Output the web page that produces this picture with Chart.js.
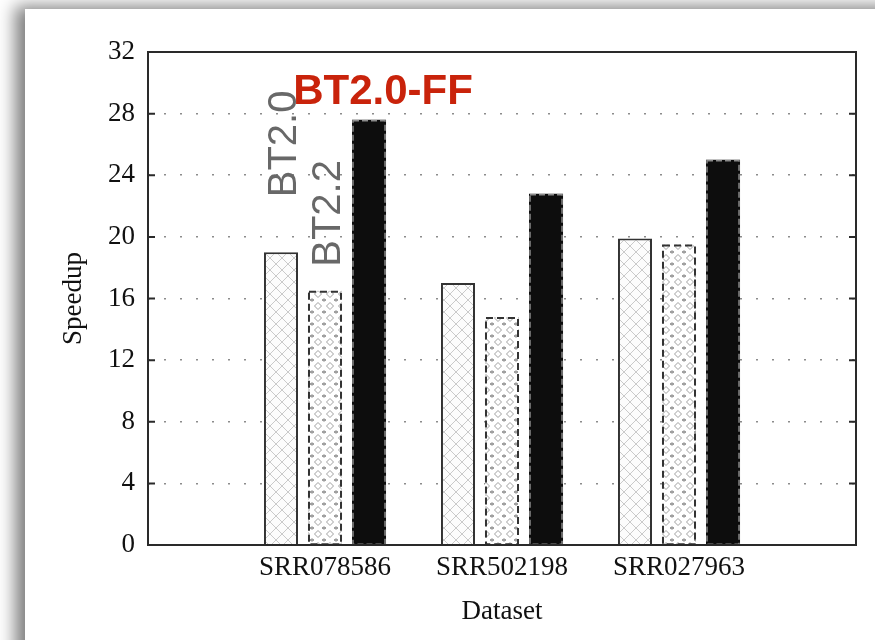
<!DOCTYPE html>
<html>
<head>
  <title>Speedup by dataset</title>
  <script src="https://cdn.jsdelivr.net/npm/chart.js@4/dist/chart.umd.min.js"></script>
  <style>
    body { margin: 0; background: #fff; width: 875px; height: 640px; overflow: hidden; position: relative; }
    #card { position: absolute; left: 25px; top: 9px; width: 900px; height: 700px; background: #fff;
            box-shadow: -10px -3px 16px rgba(0,0,0,0.5); }
    #myChart { position: absolute; left: 0; top: 0; }
  </style>
</head>
<body>
  <div id="card"></div>
  <canvas id="myChart" width="875" height="640"></canvas>

  <script>
    var categories = ['SRR078586', 'SRR502198', 'SRR027963'];
    var seriesNames = ['BT2.0', 'BT2.2', 'BT2.0-FF'];
    var bt20 = [19.0, 17.0, 19.9];
    var bt22 = [16.5, 14.8, 19.5];
    var bt20ff = [27.6, 22.8, 25.0];
    var yTicks = [0, 4, 8, 12, 16, 20, 24, 28, 32];

    // empty slots at both ends, like the original axis
    var labels = [''].concat(categories, ['']);
    function pad(arr) { return [null].concat(arr, [null]); }

    var serif = "'Liberation Serif', 'DejaVu Serif', serif";
    var sans = "'Liberation Sans', Arial, sans-serif";

    // crosshatch for BT2.0
    function hatchPattern() {
      var c = document.createElement('canvas');
      c.width = 12; c.height = 12;
      var g = c.getContext('2d');
      g.fillStyle = '#fcfcfc';
      g.fillRect(0, 0, 12, 12);
      g.strokeStyle = '#cacaca';
      g.lineWidth = 1;
      g.beginPath();
      g.moveTo(0, 0); g.lineTo(12, 12);
      g.moveTo(12, 0); g.lineTo(0, 12);
      g.stroke();
      return g.createPattern(c, 'repeat');
    }

    // small diamonds and crosses for BT2.2
    function dotPattern() {
      var c = document.createElement('canvas');
      c.width = 12; c.height = 12;
      var g = c.getContext('2d');
      g.fillStyle = '#ffffff';
      g.fillRect(0, 0, 12, 12);
      g.strokeStyle = '#a0a0a0';
      g.lineWidth = 1;
      g.beginPath();
      g.moveTo(6, 2.5); g.lineTo(9.5, 6); g.lineTo(6, 9.5); g.lineTo(2.5, 6); g.closePath();
      g.moveTo(0, 0); g.lineTo(0, 2); g.moveTo(0, 10); g.lineTo(0, 12);
      g.moveTo(12, 0); g.lineTo(12, 2); g.moveTo(12, 10); g.lineTo(12, 12);
      g.moveTo(10, 0.5); g.lineTo(12, 0.5); g.moveTo(0, 0.5); g.lineTo(2, 0.5);
      g.moveTo(10, 11.5); g.lineTo(12, 11.5); g.moveTo(0, 11.5); g.lineTo(2, 11.5);
      g.stroke();
      return g.createPattern(c, 'repeat');
    }

    var framePlugin = {
      id: 'frame',
      afterDatasetsDraw: function(chart) {
        var ctx = chart.ctx;
        // dashed outlines
        ctx.save();
        [[1, '#333', 2, [7, 4]], [2, '#8a8a8a', 1.5, [6, 3]]].forEach(function(s) {
          chart.getDatasetMeta(s[0]).data.forEach(function(el, i) {
            if (chart.data.datasets[s[0]].data[i] == null) return;
            ctx.strokeStyle = s[1];
            ctx.lineWidth = s[2];
            ctx.setLineDash(s[3]);
            ctx.strokeRect(el.x - el.width / 2 + 1, el.y + 1, el.width - 2, el.base - el.y - 1);
          });
        });
        ctx.restore();

        // series labels over the first group
        var m0 = chart.getDatasetMeta(0).data[1];
        var m1 = chart.getDatasetMeta(1).data[1];
        var m2 = chart.getDatasetMeta(2).data[1];
        ctx.save();
        ctx.fillStyle = '#686868';
        ctx.font = '40px ' + sans;
        ctx.textAlign = 'left';
        ctx.textBaseline = 'alphabetic';
        [[m0, chart.data.datasets[0].label, 55], [m1, chart.data.datasets[1].label, 24]].forEach(function(t) {
          ctx.save();
          ctx.translate(t[0].x + t[0].width / 2 - 2, t[0].y - t[2]);
          ctx.rotate(-Math.PI / 2);
          ctx.fillText(t[1], 0, 0);
          ctx.restore();
        });
        ctx.fillStyle = '#c9230b';
        ctx.font = 'bold 42px ' + sans;
        ctx.textAlign = 'center';
        ctx.fillText(chart.data.datasets[2].label, m2.x + 14, m2.y - 16);
        ctx.restore();
      },
      afterDraw: function(chart) {
        var ctx = chart.ctx;
        var a = chart.chartArea;
        var y = chart.scales.y;
        ctx.save();
        ctx.strokeStyle = '#2a2a2a';
        ctx.lineWidth = 2;
        ctx.setLineDash([]);
        ctx.strokeRect(a.left, a.top, a.right - a.left, a.bottom - a.top);
        // inward tick marks on both sides
        ctx.beginPath();
        y.ticks.forEach(function(t) {
          var py = y.getPixelForValue(t.value);
          ctx.moveTo(a.left, py); ctx.lineTo(a.left + 7, py);
          ctx.moveTo(a.right - 7, py); ctx.lineTo(a.right, py);
        });
        ctx.stroke();
        ctx.restore();
      }
    };

    var ctx = document.getElementById('myChart').getContext('2d');
    var myChart = new Chart(ctx, {
      type: 'bar',
      data: {
        labels: labels,
        datasets: [
          { label: seriesNames[0], data: pad(bt20), backgroundColor: hatchPattern(), borderColor: '#333', borderWidth: 2 },
          { label: seriesNames[1], data: pad(bt22), backgroundColor: dotPattern(), borderWidth: 0 },
          { label: seriesNames[2], data: pad(bt20ff), backgroundColor: '#0d0d0d', borderWidth: 0 }
        ]
      },
      options: {
        responsive: false,
        animation: false,
        devicePixelRatio: 1,
        categoryPercentage: 0.746,
        barPercentage: 0.773,
        layout: { padding: { left: 0, top: 52, right: 19, bottom: 0 } },
        plugins: { legend: { display: false }, tooltip: { enabled: false } },
        scales: {
          x: {
            offset: false,
            grid: { display: false, drawTicks: false },
            border: { display: false },
            ticks: { color: '#111', font: { family: serif, size: 27 }, padding: 7, maxRotation: 0, autoSkip: false },
            title: { display: true, text: 'Dataset', color: '#111', font: { family: serif, size: 27 }, padding: { top: 0, bottom: 12 } },
            afterFit: function(s) { s.height = 95; }
          },
          y: {
            min: 0,
            max: 32,
            afterBuildTicks: function(s) { s.ticks = yTicks.map(function(v) { return { value: v }; }); },
            grid: { color: '#8c8c8c', lineWidth: 1.6, drawTicks: false, borderDash: [2, 14] },
            border: { display: false, dash: [2, 14] },
            ticks: { color: '#111', font: { family: serif, size: 27 }, padding: 13 },
            title: { display: true, text: 'Speedup', color: '#111', font: { family: serif, size: 27 }, padding: { top: 58, bottom: 0 } },
            afterFit: function(s) { s.width = 148; }
          }
        }
      },
      plugins: [framePlugin]
    });
  </script>
</body>
</html>
